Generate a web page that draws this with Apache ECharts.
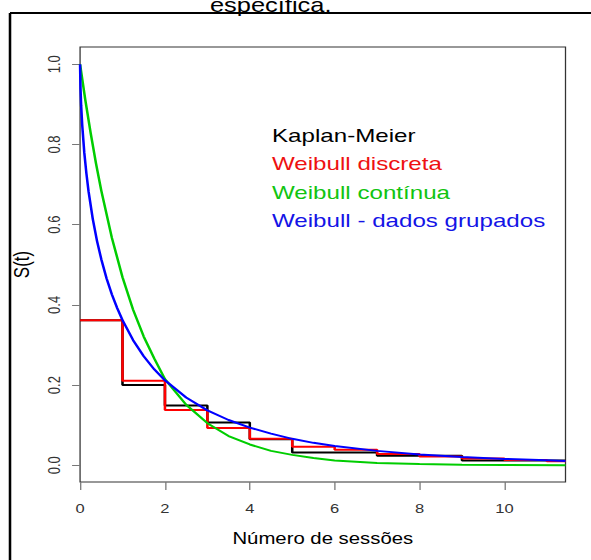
<!DOCTYPE html>
<html>
<head>
<meta charset="utf-8">
<script src="https://cdn.jsdelivr.net/npm/echarts@6/dist/echarts.min.js"></script>
<style>
html,body{margin:0;padding:0;background:#fff;}
#wrap{width:591px;height:560px;overflow:hidden;position:relative;background:#fff;}
#c{width:465px;height:560px;transform:scaleX(1.27097);transform-origin:0 0;}
</style>
</head>
<body>
<div id="wrap"><div id="c"></div></div>
<script>
// ---- data ----
const stepTimes = [0, 1, 2, 3, 4, 5, 6, 7, 8, 9, 10, 11, 11.44];
const kaplanMeier = [0.362, 0.200, 0.149, 0.107, 0.065, 0.032, 0.032, 0.024, 0.024, 0.012, 0.012, 0.012, 0.012];
const weibullDiscreta = [0.362, 0.211, 0.138, 0.093, 0.066, 0.046, 0.039, 0.028, 0.022, 0.017, 0.013, 0.010, 0.010];

const continuaTimes = [0, 0.125, 0.25, 0.375, 0.5, 0.75, 1, 1.25, 1.5, 1.75, 2, 2.5, 3, 3.5, 4, 4.5, 5, 5.5, 6, 7, 8, 9, 10, 11.44];
const weibullContinua = [1, 0.91, 0.828, 0.753, 0.685, 0.567, 0.469, 0.388, 0.321, 0.266, 0.215, 0.151, 0.105, 0.073, 0.052, 0.036, 0.026, 0.018, 0.012, 0.006, 0.003, 0.0015, 0.0008, 0.0003];

const agrupTimes = [0, 0.01, 0.025, 0.05, 0.1, 0.15, 0.2, 0.3, 0.4, 0.5, 0.625, 0.75, 0.875, 1, 1.25, 1.5, 1.75, 2, 2.5, 3, 3.5, 4, 4.5, 5, 5.5, 6, 7, 8, 9, 10, 11, 11.44];
const weibullAgrupados = [1, 0.94, 0.898, 0.849, 0.779, 0.727, 0.683, 0.614, 0.559, 0.514, 0.466, 0.426, 0.392, 0.362, 0.312, 0.272, 0.239, 0.212, 0.169, 0.137, 0.113, 0.094, 0.079, 0.066, 0.056, 0.048, 0.036, 0.027, 0.021, 0.016, 0.0125, 0.011];

const xTicks = [0, 2, 4, 6, 8, 10];
const yTicks = [0, 0.2, 0.4, 0.6, 0.8, 1.0];
const seriesNames = ['Kaplan-Meier', 'Weibull discreta', 'Weibull contínua', 'Weibull - dados grupados'];
const seriesColors = ['#000000', '#FF0000', '#00CD00', '#0000FF'];
const textColors = ['#000000', '#EE1111', '#11C411', '#1414E6'];

function pairs(xs, ys){ return xs.map((x, i) => [x, ys[i]]); }

const FONT = "'Liberation Sans', Arial, sans-serif";
const chart = echarts.init(document.getElementById('c'), null, {renderer: 'svg'});

chart.setOption({
  animation: false,
  backgroundColor: 'transparent',
  grid: {left: 62.94, right: 20.06, top: 47, bottom: 78, show: true, borderColor: '#333', borderWidth: 1, backgroundColor: 'transparent'},
  legend: {
    orient: 'vertical', left: 209, top: 125.5, padding: 0,
    icon: 'none', itemWidth: 0, itemHeight: 14, itemGap: 9.5,
    selectedMode: false,
    textStyle: {fontFamily: FONT, fontSize: 19, lineHeight: 19},
    data: seriesNames.map((n, i) => ({name: n, textStyle: {color: textColors[i]}}))
  },
  xAxis: {
    type: 'value', min: 0, max: 11.44, position: 'bottom',
    name: 'Número de sessões', nameLocation: 'middle', nameGap: 48,
    nameTextStyle: {fontFamily: FONT, fontSize: 16, color: '#000'},
    axisLine: {show: false, onZero: false},
    axisTick: {show: true, length: 8, lineStyle: {color: '#777', width: 1}, customValues: xTicks},
    axisLabel: {show: true, margin: 20, fontFamily: FONT, fontSize: 13, color: '#333', customValues: xTicks, formatter: v => String(v)},
    splitLine: {show: false}
  },
  yAxis: {
    type: 'value', min: -0.0416, max: 1.043, position: 'left',
    name: 'S(t)', nameLocation: 'middle', nameGap: 38, nameRotate: 90,
    nameTextStyle: {fontFamily: FONT, fontSize: 17, color: '#000'},
    axisLine: {show: false, onZero: false},
    axisTick: {show: true, length: 6.3, lineStyle: {color: '#777', width: 1}, customValues: yTicks},
    axisLabel: {show: true, rotate: 90, margin: 14, fontFamily: FONT, fontSize: 13, color: '#333', customValues: yTicks, formatter: v => v.toFixed(1)},
    splitLine: {show: false}
  },
  graphic: [
    {type: 'line', shape: {x1: 7.87, y1: 13, x2: 7.87, y2: 560}, style: {stroke: '#000', lineWidth: 2}},
    {type: 'line', shape: {x1: 7.87, y1: 13, x2: 465, y2: 13}, style: {stroke: '#000', lineWidth: 2}},
    {type: 'text', x: 213, y: 15, style: {text: 'específica.', fontFamily: FONT, fontSize: 20, fill: '#000', align: 'center', verticalAlign: 'bottom'}}
  ],
  series: [
    {name: seriesNames[0], type: 'line', step: 'end', showSymbol: false, symbol: 'none', data: pairs(stepTimes, kaplanMeier), lineStyle: {color: seriesColors[0], width: 2}, itemStyle: {color: seriesColors[0]}},
    {name: seriesNames[1], type: 'line', step: 'end', showSymbol: false, symbol: 'none', data: pairs(stepTimes, weibullDiscreta), lineStyle: {color: seriesColors[1], width: 2}, itemStyle: {color: seriesColors[1]}},
    {name: seriesNames[2], type: 'line', showSymbol: false, symbol: 'none', data: pairs(continuaTimes, weibullContinua), lineStyle: {color: seriesColors[2], width: 2}, itemStyle: {color: seriesColors[2]}},
    {name: seriesNames[3], type: 'line', showSymbol: false, symbol: 'none', data: pairs(agrupTimes, weibullAgrupados), lineStyle: {color: seriesColors[3], width: 2}, itemStyle: {color: seriesColors[3]}}
  ]
});
</script>
</body>
</html>
